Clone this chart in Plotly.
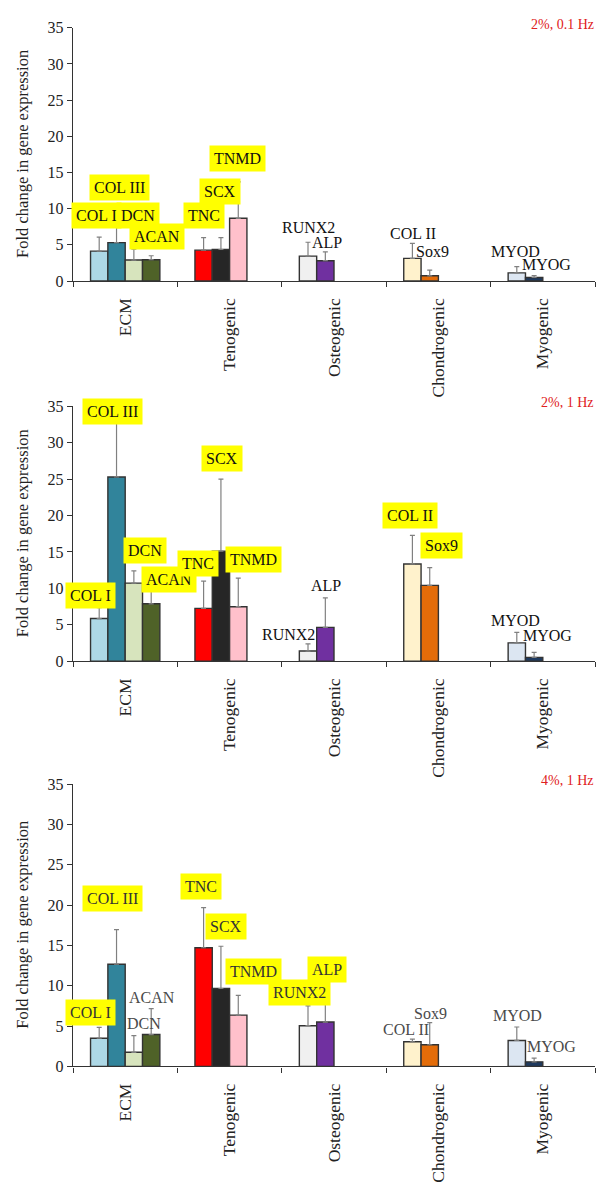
import plotly.graph_objects as go

# ---------------- data ----------------
genes = ["COL I", "COL III", "DCN", "ACAN", "TNC", "SCX", "TNMD",
         "RUNX2", "ALP", "COL II", "Sox9", "MYOD", "MYOG"]
gene_category = ["ECM", "ECM", "ECM", "ECM", "Tenogenic", "Tenogenic", "Tenogenic",
                 "Osteogenic", "Osteogenic", "Chondrogenic", "Chondrogenic",
                 "Myogenic", "Myogenic"]
categories = ["ECM", "Tenogenic", "Osteogenic", "Chondrogenic", "Myogenic"]
gene_slot = [0, 1, 2, 3, 0, 1, 2, 0, 1, 0, 1, 0, 1]
gene_colors = ["#add8e6", "#31849b", "#d7e4bd", "#4f6228", "#ff0000", "#262626", "#ffc0cb",
               "#f0f0f0", "#7030a0", "#fff2cc", "#e36c09", "#dce6f2", "#1f3a5f"]

panel_titles = ["2%, 0.1 Hz", "2%, 1 Hz", "4%, 1 Hz"]

mean_2pct_01hz = [4.13, 5.31, 2.90, 2.95, 4.27, 4.36, 8.67, 3.45, 2.81, 3.13, 0.73, 1.13, 0.50]
err_2pct_01hz = [1.95, 3.20, 1.50, 0.55, 1.72, 1.64, 5.03, 1.91, 1.23, 2.09, 0.77, 0.87, 0.27]

mean_2pct_1hz = [5.86, 25.30, 10.73, 7.89, 7.26, 15.10, 7.49, 1.40, 4.65, 13.35, 10.42, 2.53, 0.54]
err_2pct_1hz = [1.49, 8.20, 1.67, 1.85, 3.74, 9.90, 3.91, 0.99, 4.05, 3.92, 2.44, 1.44, 0.68]

mean_4pct_1hz = [3.50, 12.67, 1.75, 3.95, 14.71, 9.66, 6.36, 5.05, 5.50, 3.06, 2.69, 3.22, 0.57]
err_4pct_1hz = [1.35, 4.28, 2.08, 3.22, 4.97, 5.24, 2.44, 2.45, 2.90, 0.32, 2.73, 1.67, 0.45]

# label placement (category-index x, value y) and highlight flags, per panel
label_x_p1 = [-0.273, -0.053, 0.121, 0.303, 0.755, 0.908, 1.071, 1.754, 1.93, 2.752, 2.943, 3.737, 4.04]
label_y_p1 = [9.03, 12.94, 9.0, 6.13, 9.1, 12.4, 16.95, 7.45, 5.38, 6.63, 4.02, 4.13, 2.32]
highlight_p1 = [1, 1, 1, 1, 1, 1, 1, 0, 0, 0, 0, 0, 0]

label_x_p2 = [-0.33, -0.117, 0.19, 0.417, 0.70, 0.927, 1.227, 1.566, 1.919, 2.728, 3.025, 3.743, 4.047]
label_y_p2 = [8.98, 34.3, 15.2, 11.2, 13.45, 27.8, 13.9, 3.64, 10.42, 20.03, 15.86, 5.55, 3.52]
highlight_p2 = [1, 1, 1, 1, 1, 1, 1, 0, 0, 1, 1, 0, 0]

label_x_p3 = [-0.33, -0.117, 0.182, 0.261, 0.724, 0.964, 1.227, 1.67, 1.933, 2.685, 2.927, 3.753, 4.088]
label_y_p3 = [6.72, 20.76, 5.38, 8.6, 22.33, 17.3, 11.8, 9.15, 12.0, 4.52, 6.6, 6.35, 2.49]
highlight_p3 = [1, 1, 0, 0, 1, 1, 1, 1, 1, 0, 0, 0, 0]

y_ticks = [0, 5, 10, 15, 20, 25, 30, 35]

# ---------------- layout geometry ----------------
W, H = 606, 1195
x_dom = [73 / W, 595 / W]
y_pix = [(20, 277), (404, 662.7), (787.3, 1073.7)]
y_doms = [[1 - b / H, 1 - t / H] for t, b in y_pix]

FONT = "Liberation Serif"
AXC = "#333333"

panels = [
    (mean_2pct_01hz, err_2pct_01hz, label_x_p1, label_y_p1, highlight_p1),
    (mean_2pct_1hz, err_2pct_1hz, label_x_p2, label_y_p2, highlight_p2),
    (mean_4pct_1hz, err_4pct_1hz, label_x_p3, label_y_p3, highlight_p3),
]

fig = go.Figure()
annotations = []
layout = dict(
    width=W, height=H, margin=dict(l=0, r=0, t=0, b=0),
    paper_bgcolor="white", plot_bgcolor="white",
    barmode="group", bargap=0.336, bargroupgap=0,
    showlegend=False,
    font=dict(family=FONT, size=16, color="#222"),
)

for p, (means, errs, lx, ly, hl) in enumerate(panels):
    sfx = "" if p == 0 else str(p + 1)
    xa, ya = "x" + sfx, "y" + sfx
    for g in range(len(genes)):
        fig.add_trace(go.Bar(
            x=[gene_category[g]], y=[means[g]],
            xaxis=xa, yaxis=ya,
            offsetgroup=str(gene_slot[g]),
            marker=dict(color=gene_colors[g], line=dict(color=AXC, width=1.4)),
            error_y=dict(type="data", array=[errs[g]], symmetric=False,
                         arrayminus=[0], color="#808080", thickness=1.2, width=2.5),
            name=genes[g], hoverinfo="name+y",
        ))
        txtcol = "#111" if p < 2 else ("#333" if hl[g] else "#4a4a4a")
        annotations.append(dict(
            x=lx[g], y=ly[g], xref=xa, yref=ya, text=genes[g], showarrow=False,
            font=dict(family=FONT, size=16, color=txtcol),
            bgcolor="#ffff00" if hl[g] else "rgba(0,0,0,0)",
            borderpad=4 if hl[g] else 0,
            xanchor="center", yanchor="middle",
        ))
    layout["xaxis" + sfx] = dict(
        domain=x_dom, anchor=ya, type="category",
        categoryorder="array", categoryarray=categories,
        range=[-0.5, len(categories) - 0.5],
        showline=True, linecolor=AXC, linewidth=1.4,
        ticks="outside", tickson="boundaries", ticklen=5, tickcolor=AXC,
        tickangle=-90, ticklabelstandoff=9, showgrid=False, zeroline=False,
        tickfont=dict(family=FONT, size=17.5, color="#222"),
    )
    layout["yaxis" + sfx] = dict(
        domain=y_doms[p], anchor=xa, range=[0, 35],
        tickvals=y_ticks, showline=True, linecolor=AXC, linewidth=1.4,
        ticks="outside", ticklen=5, tickcolor=AXC, showgrid=False, zeroline=False,
        tickfont=dict(family=FONT, size=16, color="#222"),
    )
    yc = (y_pix[p][0] + y_pix[p][1]) / 2
    annotations.append(dict(
        x=22.5 / W, y=1 - yc / H, xref="paper", yref="paper",
        text="Fold change in gene expression", textangle=-90, showarrow=False,
        font=dict(family=FONT, size=16.5, color="#222"),
        xanchor="center", yanchor="middle",
    ))
    annotations.append(dict(
        x=596 / W, y=1 - (y_pix[p][0] - 3.5) / H, xref="paper", yref="paper",
        text=panel_titles[p], showarrow=False,
        font=dict(family=FONT, size=14, color="#e02020"),
        xanchor="right", yanchor="middle",
    ))

layout["annotations"] = annotations
fig.update_layout(**layout)
fig.write_html(
    "out.html",
    config={"displayModeBar": False},
    post_script="document.body.style.margin='0';document.body.style.overflow='hidden';",
)
